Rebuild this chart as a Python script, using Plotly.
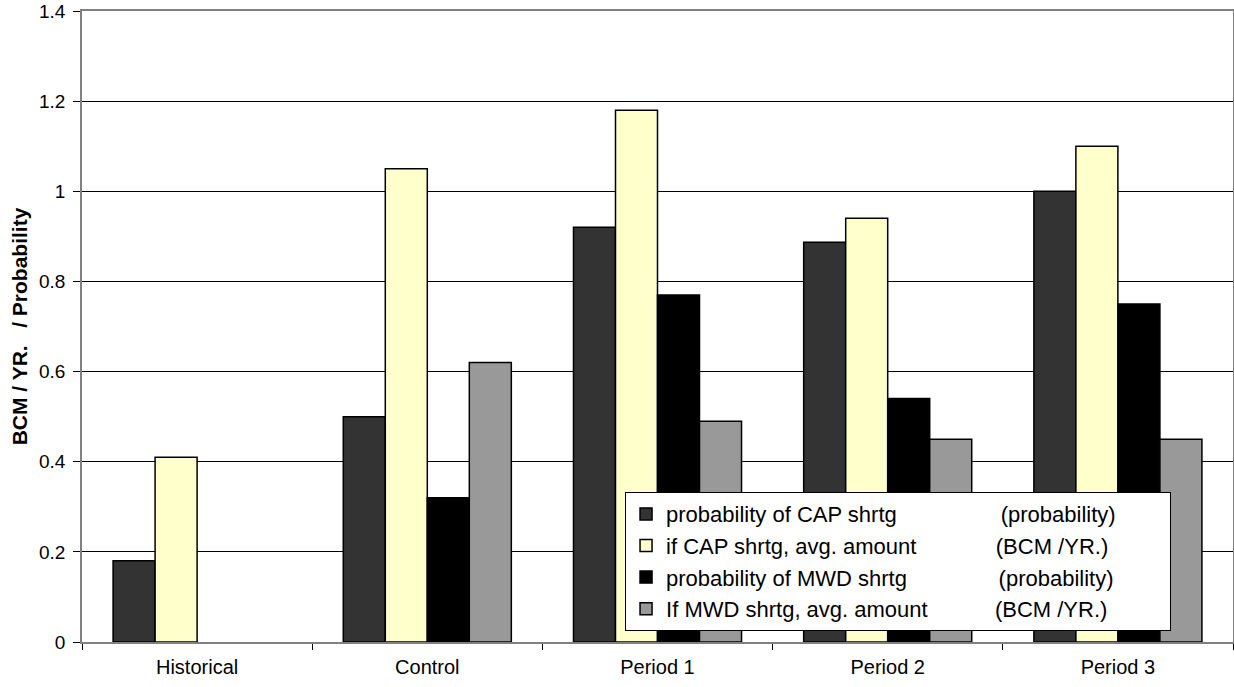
import plotly.graph_objects as go

# Scenario groups along the x axis
categories = ["Historical", "Control", "Period 1", "Period 2", "Period 3"]

# Series values per scenario (None = not available)
cap_prob = [0.18, 0.50, 0.92, 0.887, 1.00]
cap_amount = [0.41, 1.05, 1.18, 0.94, 1.10]
mwd_prob = [None, 0.32, 0.77, 0.54, 0.75]
mwd_amount = [None, 0.62, 0.49, 0.45, 0.45]

NB = "\u00a0"
series = [
    ("probability of CAP shrtg" + NB * 17 + "(probability)" + NB * 8, cap_prob, "#333333"),
    ("if CAP shrtg, avg. amount" + NB * 13 + "(BCM /YR.)", cap_amount, "#FFFFCC"),
    ("probability of MWD shrtg" + NB * 15 + "(probability)", mwd_prob, "#000000"),
    ("If MWD shrtg, avg. amount" + NB * 11 + "(BCM /YR.)", mwd_amount, "#999999"),
]

y_ticks = [0, 0.2, 0.4, 0.6, 0.8, 1.0, 1.2, 1.4]
y_tick_text = ["0", "0.2", "0.4", "0.6", "0.8", "1", "1.2", "1.4"]

fig = go.Figure()
for name, vals, color in series:
    fig.add_trace(go.Bar(
        x=categories, y=vals, name=name,
        marker=dict(color=color, line=dict(color="#000000", width=1.5)),
    ))

fig.update_layout(
    width=1234, height=687,
    margin=dict(l=82, r=1, t=11, b=45),
    paper_bgcolor="white", plot_bgcolor="white",
    barmode="group", bargap=0.27, bargroupgap=0,
    font=dict(family="Liberation Sans, Arial, sans-serif", color="#000000", size=19),
    showlegend=True,
    legend=dict(
        x=0.4718, y=0.0173, xanchor="left", yanchor="bottom",
        bgcolor="white", bordercolor="#000000", borderwidth=1,
        font=dict(size=22), tracegroupgap=0, itemwidth=30,
    ),
    xaxis=dict(
        showline=True, linecolor="#808080", linewidth=1.5, mirror=True,
        ticks="outside", tickson="boundaries", ticklen=6, tickcolor="#000000",
        tickfont=dict(size=20), ticklabelstandoff=6, showgrid=False,
        automargin=False,
    ),
    yaxis=dict(
        range=[0, 1.4], tickvals=y_ticks, ticktext=y_tick_text,
        showline=True, linecolor="#808080", linewidth=1.5, mirror=True,
        ticks="outside", ticklen=7, tickcolor="#000000",
        ticklabelstandoff=4, ticklabeloverflow="allow",
        showgrid=True, gridcolor="#000000", gridwidth=1,
        tickfont=dict(size=19), automargin=False,
        title=dict(text="<b>BCM / YR." + NB * 3 + "/ Probability</b>",
                   font=dict(size=21), standoff=6),
        zeroline=False,
    ),
)

fig.write_html("out.html")
